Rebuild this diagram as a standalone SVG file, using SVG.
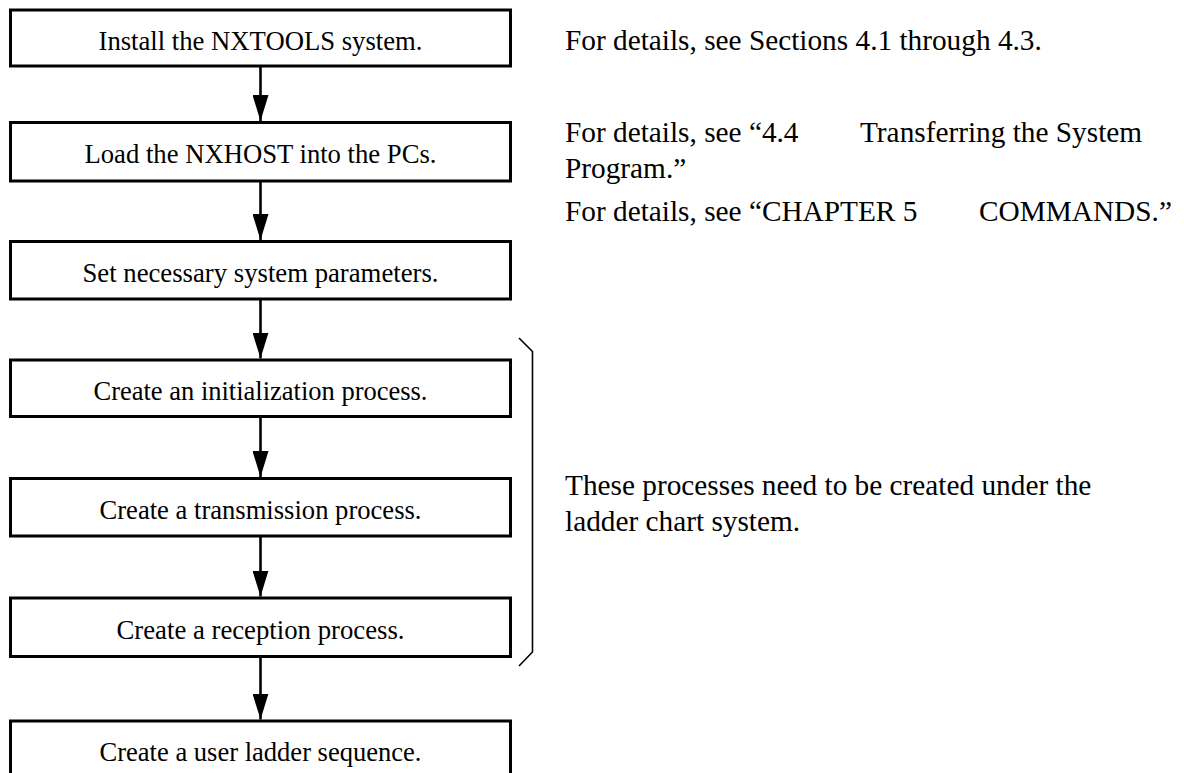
<svg xmlns="http://www.w3.org/2000/svg" width="1184" height="773" viewBox="0 0 1184 773">
<defs>
<style>
.box{fill:#fff;stroke:#000;stroke-width:3}
.bt{font-family:"Liberation Serif","Times New Roman",serif;font-size:26.5px;fill:#000;text-anchor:middle}
.nt{font-family:"Liberation Serif","Times New Roman",serif;font-size:29.3px;fill:#000}
.ln{stroke:#000;stroke-width:2.6;fill:none}
.br{stroke:#000;stroke-width:1.6;fill:none}
</style>
<marker id="ah" markerUnits="userSpaceOnUse" markerWidth="26" markerHeight="16" refX="26" refY="8" viewBox="0 0 26 16" orient="auto">
<path d="M0,0 L26,8 L0,16 Z" fill="#000"/>
</marker>
</defs>
<rect width="1184" height="773" fill="#fff"/>
<g id="connectors">
<line class="ln" x1="260.5" y1="66" x2="260.5" y2="121" marker-end="url(#ah)"/>
<line class="ln" x1="260.5" y1="181" x2="260.5" y2="240" marker-end="url(#ah)"/>
<line class="ln" x1="260.5" y1="299" x2="260.5" y2="358.5" marker-end="url(#ah)"/>
<line class="ln" x1="260.5" y1="416.5" x2="260.5" y2="477" marker-end="url(#ah)"/>
<line class="ln" x1="260.5" y1="536" x2="260.5" y2="596.5" marker-end="url(#ah)"/>
<line class="ln" x1="260.5" y1="656.5" x2="260.5" y2="719.5" marker-end="url(#ah)"/>
</g>
<g id="n1"><rect class="box" x="10.5" y="10" width="500" height="56"/><text class="bt" x="260.5" y="50" textLength="324" lengthAdjust="spacingAndGlyphs">Install the NXTOOLS system.</text></g>
<g id="n2"><rect class="box" x="10.5" y="122.5" width="500" height="58.5"/><text class="bt" x="260.5" y="163" textLength="352" lengthAdjust="spacingAndGlyphs">Load the NXHOST into the PCs.</text></g>
<g id="n3"><rect class="box" x="10.5" y="241.5" width="500" height="57.5"/><text class="bt" x="260.5" y="282" textLength="356" lengthAdjust="spacingAndGlyphs">Set necessary system parameters.</text></g>
<g id="n4"><rect class="box" x="10.5" y="360" width="500" height="56.5"/><text class="bt" x="260.5" y="400" textLength="334" lengthAdjust="spacingAndGlyphs">Create an initialization process.</text></g>
<g id="n5"><rect class="box" x="10.5" y="478.5" width="500" height="57.5"/><text class="bt" x="260.5" y="519" textLength="322" lengthAdjust="spacingAndGlyphs">Create a transmission process.</text></g>
<g id="n6"><rect class="box" x="10.5" y="598" width="500" height="58.5"/><text class="bt" x="260.5" y="638.5" textLength="288" lengthAdjust="spacingAndGlyphs">Create a reception process.</text></g>
<g id="n7"><rect class="box" x="10.5" y="721" width="500" height="60"/><text class="bt" x="260.5" y="761" textLength="322" lengthAdjust="spacingAndGlyphs">Create a user ladder sequence.</text></g>
<g id="bracket"><path class="br" d="M519,338 L532.5,351.5 L532.5,652 L519,666"/></g>
<g id="notes">
<text class="nt" x="565" y="50">For details, see Sections 4.1 through 4.3.</text>
<text class="nt" y="142"><tspan x="565">For details, see “4.4</tspan><tspan x="860">Transferring the System</tspan></text>
<text class="nt" x="565" y="178">Program.”</text>
<text class="nt" y="221"><tspan x="565">For details, see “CHAPTER 5</tspan><tspan x="979">COMMANDS.”</tspan></text>
<text class="nt" x="565" y="495">These processes need to be created under the</text>
<text class="nt" x="565" y="531">ladder chart system.</text>
</g>
</svg>
